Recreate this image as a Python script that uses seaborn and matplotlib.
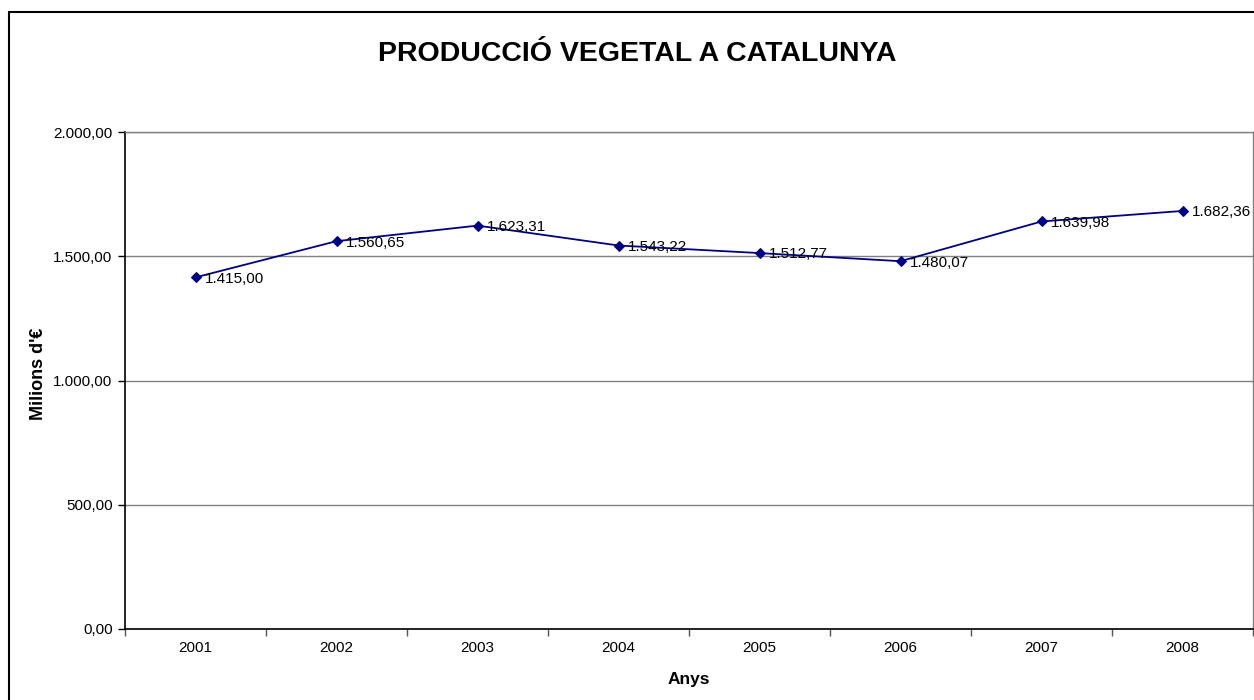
import pandas as pd
import matplotlib
matplotlib.use('Agg')
import matplotlib.pyplot as plt
import seaborn as sns
from matplotlib.ticker import FuncFormatter, FixedLocator
from matplotlib.lines import Line2D

# Data
years = ['2001', '2002', '2003', '2004', '2005', '2006', '2007', '2008']
values = [1415.00, 1560.65, 1623.31, 1543.22, 1512.77, 1480.07, 1639.98, 1682.36]

df = pd.DataFrame({'Anys': years, 'valor': values})


def euro_fmt(v, pos=None):
    s = f'{v:,.2f}'
    return s.replace(',', 'X').replace('.', ',').replace('X', '.')


sns.set_style('white')
plt.rcParams['font.family'] = ['Liberation Sans', 'DejaVu Sans']
plt.rcParams['text.color'] = 'black'
plt.rcParams['axes.labelcolor'] = 'black'
plt.rcParams['xtick.color'] = 'black'
plt.rcParams['ytick.color'] = 'black'

fig = plt.figure(figsize=(12.54, 7), dpi=100)
ax = fig.add_axes([125 / 1254, 71 / 700, 1128 / 1254, 497 / 700])

sns.lineplot(data=df, x='Anys', y='valor', ax=ax, color='#000080',
             linewidth=1.3, marker='D', markersize=5,
             markeredgecolor='#000080', markerfacecolor='#000080')

# Data labels
for i, v in enumerate(values):
    ax.annotate(euro_fmt(v), (i, v), xytext=(6.5, -1), textcoords='offset points',
                ha='left', va='center', fontsize=11, color='black')

ax.set_xlim(-0.5, len(years) - 0.5)
ax.set_ylim(0, 2000)
ax.set_yticks([0, 500, 1000, 1500, 2000])
ax.yaxis.set_major_formatter(FuncFormatter(euro_fmt))
ax.grid(axis='y', color='#808080', linewidth=1)
ax.grid(axis='x', visible=False)

# x ticks between categories
ax.xaxis.set_minor_locator(FixedLocator([i + 0.5 for i in range(-1, len(years))]))
ax.tick_params(axis='x', which='major', length=0, pad=9, labelsize=11)
ax.tick_params(axis='x', which='minor', length=5, width=1, color='#555555', direction='out', bottom=True)
ax.tick_params(axis='y', which='major', length=5, width=1, color='black', direction='out', left=True, pad=4, labelsize=11)

for side in ['left', 'bottom']:
    ax.spines[side].set_color('black')
    ax.spines[side].set_linewidth(1.2)
for side in ['top', 'right']:
    ax.spines[side].set_color('#808080')
    ax.spines[side].set_linewidth(1)

ax.set_xlabel('Anys', fontsize=12.5, fontweight='bold', labelpad=12)
ax.set_ylabel("Milions d'€", fontsize=13, fontweight='bold')
ax.yaxis.set_label_coords(-0.069, 0.513)

fig.text(637 / 1254, 1 - 54 / 700, 'PRODUCCIÓ VEGETAL A CATALUNYA',
         ha='center', va='center', fontsize=20.5, fontweight='bold')

# Chart area border
fig.add_artist(Line2D([9 / 1254, 9 / 1254], [0, 1 - 12 / 700], color='black', linewidth=1.5))
fig.add_artist(Line2D([9 / 1254, 1], [1 - 12 / 700, 1 - 12 / 700], color='black', linewidth=1.5))

fig.savefig('out.png', dpi=100)
